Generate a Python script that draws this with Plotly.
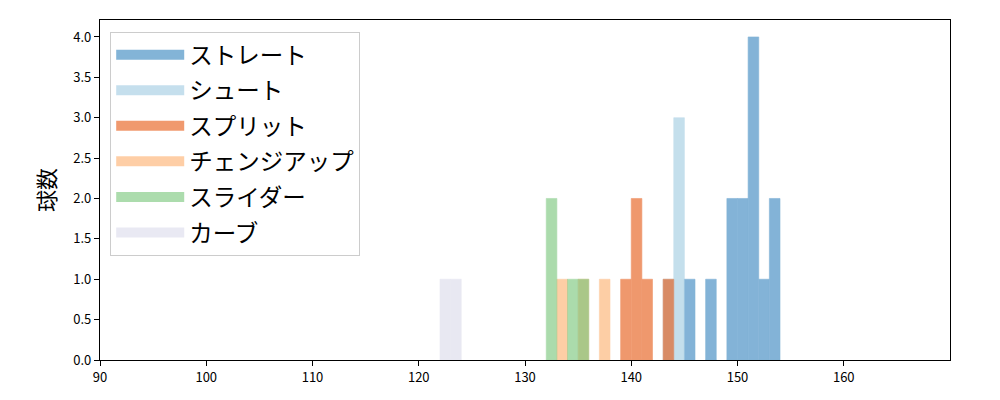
import plotly.graph_objects as go

# pitch types (legend order)
pitch_names = ["ストレート", "シュート", "スプリット", "チェンジアップ", "スライダー", "カーブ"]
pitch_colors = ["#3182bd", "#9ecae1", "#e6550d", "#fdae6b", "#74c476", "#dadaeb"]

# histogram bins (left edge, km/h) and counts per pitch type, bin width 1
straight_bins = [145, 147, 149, 150, 151, 152, 153]
straight_counts = [1, 1, 2, 2, 4, 1, 2]
shoot_bins = [143, 144]
shoot_counts = [1, 3]
split_bins = [139, 140, 141, 143]
split_counts = [1, 2, 1, 1]
changeup_bins = [133, 135, 137]
changeup_counts = [1, 1, 1]
slider_bins = [132, 134, 135]
slider_counts = [2, 1, 1]
curve_bins = [122, 123]
curve_counts = [1, 1]

bin_width = 1.0
x_ticks = [90, 100, 110, 120, 130, 140, 150, 160]
y_ticks = [0.0, 0.5, 1.0, 1.5, 2.0, 2.5, 3.0, 3.5, 4.0]

series = [
    (straight_bins, straight_counts),
    (shoot_bins, shoot_counts),
    (split_bins, split_counts),
    (changeup_bins, changeup_counts),
    (slider_bins, slider_counts),
    (curve_bins, curve_counts),
]

font = "Noto Sans CJK JP, Noto Sans, DejaVu Sans, sans-serif"

fig = go.Figure()
for i, (name, color, (bins, counts)) in enumerate(zip(pitch_names, pitch_colors, series)):
    fig.add_trace(go.Bar(
        x=[b + bin_width / 2 for b in bins],
        y=counts,
        width=[bin_width] * len(bins),
        name=name,
        legendgroup=f"g{i}",
        showlegend=False,
        marker=dict(color=color, line=dict(width=0.6, color=color)),
        opacity=0.6,
    ))
    # legend swatch (wide rectangle, like the reference)
    fig.add_trace(go.Scatter(
        x=[None], y=[None], mode="lines",
        name=name, legendgroup=f"g{i}",
        line=dict(color=color, width=16),
        opacity=0.6,
    ))

fig.update_layout(
    width=1000, height=400,
    margin=dict(l=92, r=58, t=12, b=48),
    barmode="overlay",
    plot_bgcolor="white",
    paper_bgcolor="white",
    font=dict(family=font, size=13, color="black"),
    legend=dict(
        x=0.012, y=0.965, xanchor="left", yanchor="top",
        bgcolor="white", bordercolor="#cccccc", borderwidth=1,
        font=dict(family=font, size=23.5, color="black"),
        tracegroupgap=2,
        itemwidth=68,
    ),
    xaxis=dict(
        range=[90, 170], tickvals=x_ticks, ticktext=[str(t) for t in x_ticks],
        showgrid=False, zeroline=False,
        showline=True, linecolor="black", linewidth=1.2, mirror=True,
        ticks="outside", ticklen=5, tickcolor="black",
        tickfont=dict(family=font, size=13),
    ),
    yaxis=dict(
        range=[0, 4.21], tickvals=y_ticks, ticktext=[f"{t:.1f}" for t in y_ticks],
        showgrid=False, zeroline=False,
        showline=True, linecolor="black", linewidth=1.2, mirror=True,
        ticks="outside", ticklen=5, tickcolor="black",
        tickfont=dict(family=font, size=13),
        title=dict(text="球数", font=dict(family=font, size=22), standoff=11),
    ),
)

fig.write_html("out.html")
